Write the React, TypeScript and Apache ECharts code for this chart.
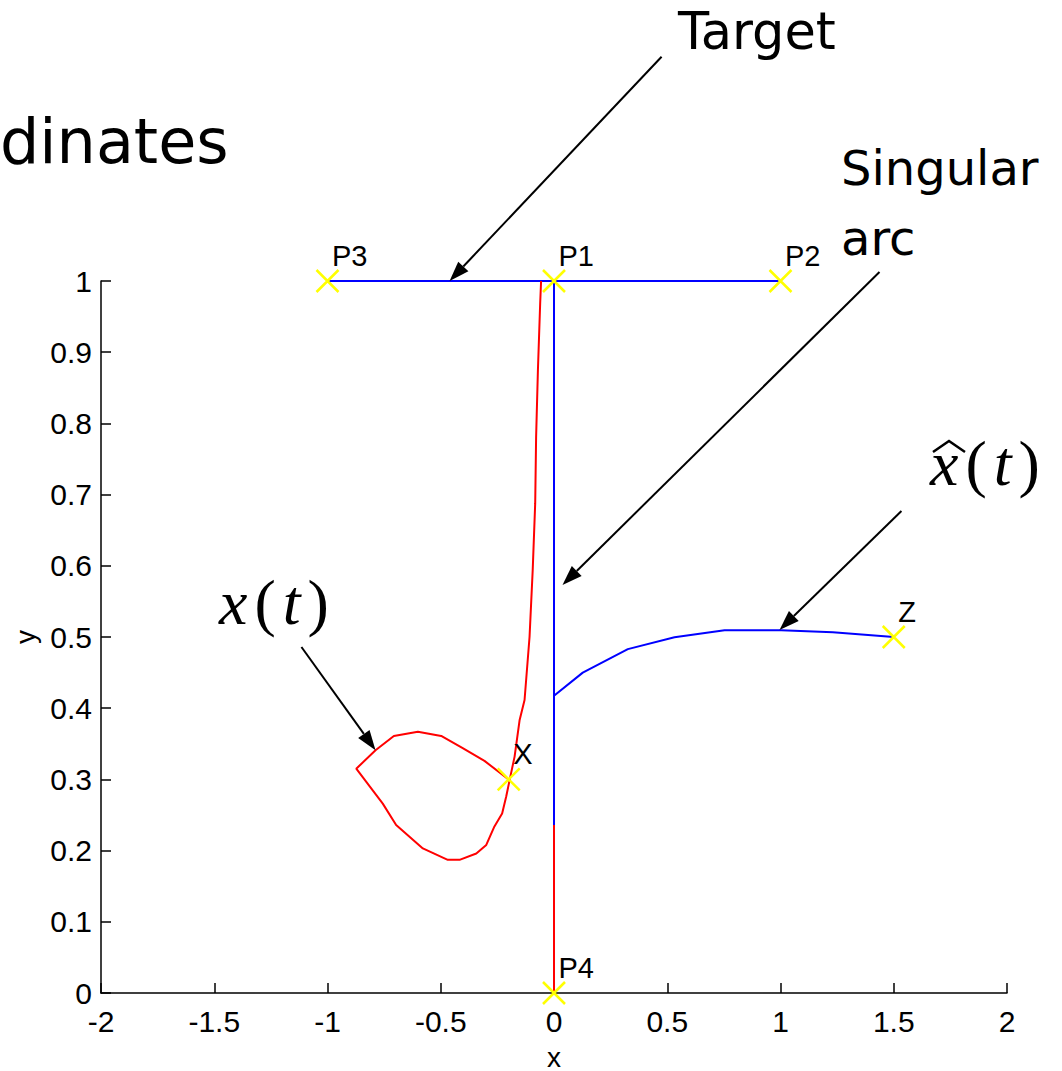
import React, { useEffect, useRef } from "react";
import * as echarts from "echarts";

// ---- data ----
const targetLine: number[][] = [[-1, 1], [1, 1]];
const singularArc: number[][] = [[0, 0.236], [0, 1]];
const xHatCurve: number[][] = [
  [0, 0.4176], [0.127, 0.45], [0.326, 0.483], [0.532, 0.4996],
  [0.753, 0.5094], [1.003, 0.5094], [1.231, 0.5066], [1.5, 0.5],
];
const redStem: number[][] = [[0, 0], [0, 0.236]];
const xCurve: number[][] = [
  [-0.196, 0.299], [-0.307, 0.326], [-0.403, 0.344], [-0.498, 0.361],
  [-0.601, 0.367], [-0.707, 0.361], [-0.788, 0.341], [-0.873, 0.315],
  [-0.756, 0.266], [-0.697, 0.236], [-0.579, 0.203], [-0.469, 0.187],
  [-0.417, 0.187], [-0.343, 0.196], [-0.299, 0.208], [-0.263, 0.234],
  [-0.229, 0.252], [-0.211, 0.276], [-0.196, 0.299], [-0.174, 0.332],
  [-0.152, 0.383], [-0.13, 0.4115], [-0.108, 0.5], [-0.094, 0.594],
  [-0.083, 0.688], [-0.079, 0.781], [-0.071, 0.875], [-0.061, 0.969],
  [-0.057, 1.0],
];
const markerNames = ["P1", "P2", "P3", "P4", "X", "Z"];
const markerX = [0, 1, -1, 0, -0.2, 1.5];
const markerY = [1, 1, 1, 0, 0.3, 0.5];

// annotation arrows: tail -> tip, in data coordinates
const arrowTails: number[][] = [[0.475, 1.315], [1.437, 1.0126], [1.534, 0.677], [-1.115, 0.486]];
const arrowTips: number[][] = [[-0.461, 1.0], [0.0375, 0.573], [0.9956, 0.51], [-0.788, 0.341]];

const xMin = -2, xMax = 2, xStep = 0.5;
const yMin = 0, yMax = 1, yStep = 0.1;

const BLUE = "#0000ff";
const RED = "#ff0000";
const YELLOW = "#ffff00";

export default function App() {
  const ref = useRef<HTMLDivElement>(null);
  useEffect(() => {
    if (!ref.current) return;
    const chart = echarts.init(ref.current, null, { renderer: "svg" });
    const lineSeries = (data: number[][], color: string, z = 2) => ({
      type: "line",
      data,
      showSymbol: false,
      symbol: "none",
      lineStyle: { color, width: 2 },
      z,
      silent: true,
    });
    const tickFont = { color: "#000", fontSize: 30, fontFamily: "Liberation Sans" };
    const option: any = {
      animation: false,
      backgroundColor: "#ffffff",
      grid: { left: 101, right: 55, top: 281, bottom: 78, containLabel: false, outerBoundsMode: "none" },
      xAxis: {
        type: "value",
        min: xMin,
        max: xMax,
        interval: xStep,
        name: "x",
        nameLocation: "middle",
        nameGap: 50,
        nameTextStyle: { color: "#000", fontSize: 28, fontFamily: "Liberation Sans" },
        axisLine: { onZero: false, lineStyle: { color: "#000", width: 1.5 } },
        axisTick: { inside: true, length: 10, lineStyle: { color: "#000", width: 1.5 } },
        axisLabel: { ...tickFont, margin: 13 },
        splitLine: { show: false },
      },
      yAxis: {
        type: "value",
        min: yMin,
        max: yMax,
        interval: yStep,
        name: "y",
        nameLocation: "middle",
        nameGap: 62,
        nameTextStyle: { color: "#000", fontSize: 28, fontFamily: "Liberation Sans" },
        axisLine: { onZero: false, lineStyle: { color: "#000", width: 1.5 } },
        axisTick: { inside: true, length: 10, lineStyle: { color: "#000", width: 1.5 } },
        axisLabel: { ...tickFont, margin: 9 },
        splitLine: { show: false },
      },
      series: [
        lineSeries(targetLine, BLUE),
        lineSeries(singularArc, BLUE),
        lineSeries(xHatCurve, BLUE),
        lineSeries(redStem, RED),
        lineSeries(xCurve, RED, 3),
        {
          type: "scatter",
          symbol: "path://M0,0L10,10M10,0L0,10",
          symbolSize: 22,
          z: 5,
          silent: true,
          itemStyle: { color: "none", borderColor: YELLOW, borderWidth: 2.5, opacity: 1 },
          label: {
            show: true,
            formatter: "{b}",
            position: [18, -12],
            align: "left",
            verticalAlign: "middle",
            color: "#000",
            fontSize: 29,
            fontFamily: "Liberation Sans",
          },
          data: markerNames.map((n, i) => ({ name: n, value: [markerX[i], markerY[i]] })),
        },
      ],
    };
    chart.setOption(option);

    const graphics: any[] = [];
    const L = 20, W = 7;
    arrowTails.forEach((tail, i) => {
      const a = chart.convertToPixel({ gridIndex: 0 }, tail) as number[];
      const b = chart.convertToPixel({ gridIndex: 0 }, arrowTips[i]) as number[];
      const dx = b[0] - a[0], dy = b[1] - a[1];
      const len = Math.hypot(dx, dy);
      const ux = dx / len, uy = dy / len;
      const bx = b[0] - ux * L, by = b[1] - uy * L;
      const nx = -uy, ny = ux;
      graphics.push({
        type: "line",
        z: 10,
        shape: { x1: a[0], y1: a[1], x2: bx, y2: by },
        style: { stroke: "#000", lineWidth: 2 },
      });
      graphics.push({
        type: "polygon",
        z: 10,
        shape: { points: [[b[0], b[1]], [bx + nx * W, by + ny * W], [bx - nx * W, by - ny * W]] },
        style: { fill: "#000" },
      });
    });
    const sans = "DejaVu Sans";
    const math = (x: number, y: number) => ({
      type: "text", x, y, z: 10,
      style: {
        text: "{i|x}{r|(}{i|t}{r|)}",
        verticalAlign: "middle",
        rich: {
          i: { fontFamily: "Liberation Serif", fontStyle: "italic", fontSize: 64, fill: "#000", color: "#000", padding: [0, 5, 0, 5] },
          r: { fontFamily: "Liberation Serif", fontSize: 64, fill: "#000", color: "#000", padding: [0, 2, 0, 2] },
        },
      },
    });
    graphics.push(
      { type: "text", x: 0, y: 141, z: 10, style: { text: "dinates", fill: "#000", font: `62px '${sans}'`, verticalAlign: "middle" } },
      { type: "text", x: 678, y: 31, z: 10, style: { text: "Target", fill: "#000", font: `51px '${sans}'`, verticalAlign: "middle" } },
      { type: "text", x: 841, y: 168, z: 10, style: { text: "Singular", fill: "#000", font: `48px '${sans}'`, verticalAlign: "middle" } },
      { type: "text", x: 841, y: 238, z: 10, style: { text: "arc", fill: "#000", font: `48px '${sans}'`, verticalAlign: "middle" } },
      math(214, 602),
      math(925, 463),
      {
        type: "polyline", z: 10,
        shape: { points: [[933, 452], [949, 441], [965, 452]] },
        style: { stroke: "#000", lineWidth: 2.5, fill: "none" },
      }
    );
    chart.setOption({ graphic: graphics });
    return () => chart.dispose();
  }, []);
  return (
    <div
      ref={ref}
      style={{ position: "absolute", left: 0, top: 0, width: 1062, height: 1071, background: "#fff" }}
    />
  );
}
